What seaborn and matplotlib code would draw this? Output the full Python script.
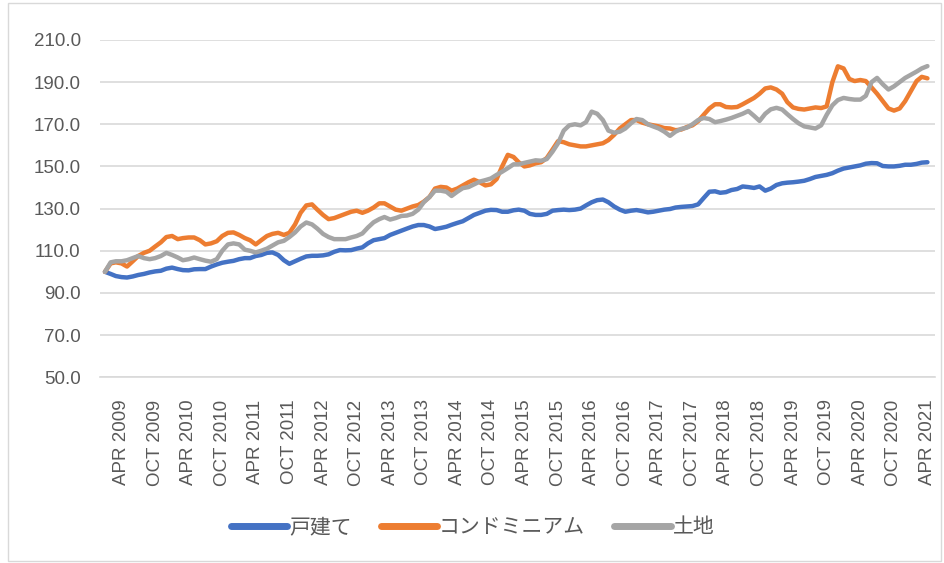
import pandas as pd
import matplotlib.pyplot as plt
import seaborn as sns
from matplotlib.patches import Rectangle

# 月次指数（2009年1月＝100）、1行＝1年
detached = [
    100, 99, 98, 97.5, 97.3, 97.8, 98.5, 99, 99.7, 100.2, 100.5, 101.5,
    102, 101.3, 100.8, 100.7, 101.2, 101.3, 101.3, 102.5, 103.5, 104.3, 104.8, 105.2,
    106, 106.5, 106.5, 107.5, 108, 109, 109.2, 108, 105.5, 103.8, 105, 106.2,
    107.3, 107.6, 107.6, 107.8, 108.3, 109.5, 110.3, 110.2, 110.3, 111, 111.6, 113.5,
    115, 115.5, 116, 117.5, 118.5, 119.5, 120.5, 121.5, 122.2, 122.2, 121.5, 120.3,
    120.8, 121.4, 122.3, 123.2, 124, 125.5, 127, 128, 129, 129.4, 129.3, 128.5,
    128.5, 129.2, 129.5, 129, 127.5, 127, 127, 127.5, 129, 129.3, 129.5, 129.3,
    129.5, 130, 131.5, 133, 134, 134.3, 133, 131, 129.5, 128.5, 129, 129.3,
    128.8, 128.2, 128.5, 129, 129.5, 129.8, 130.5, 130.8, 131, 131.2, 132, 135,
    138, 138.2, 137.5, 137.8, 138.8, 139.3, 140.5, 140.2, 139.8, 140.5, 138.5, 139.5,
    141.2, 142, 142.3, 142.5, 142.8, 143.2, 144, 145, 145.5, 146, 146.8, 148,
    149, 149.5, 150, 150.5, 151.3, 151.6, 151.5, 150.2, 150, 150, 150.3, 150.8,
    150.8, 151.2, 151.8, 152,
]
condo = [
    100, 104, 104.5, 104, 102.5, 105, 107.5, 109, 110, 112, 114, 116.5,
    117, 115.5, 116, 116.3, 116.3, 115, 113, 113.5, 114.5, 117, 118.5, 118.7,
    117.5, 116, 115, 113, 115, 117, 118, 118.5, 117.5, 118.5, 122.5, 128,
    131.5, 132, 129.5, 127, 125, 125.5, 126.5, 127.5, 128.5, 129, 128, 129,
    130.5, 132.5, 132.5, 131, 129.5, 129, 130, 131, 131.7, 133.3, 135.5, 139.5,
    140.3, 140, 138.5, 139.5, 141, 142.5, 143.7, 142.5, 141, 141.5, 144, 150,
    155.5, 154.5, 152, 150, 150.5, 151.5, 152, 154, 158, 162, 161.5, 160.5,
    160, 159.5, 159.5, 160, 160.5, 161, 162.5, 165, 168, 170, 172, 172,
    170.8, 170, 169.5, 169, 168.2, 168, 167.2, 167.5, 168.7, 169.5, 171.5, 174.5,
    177.5, 179.5, 179.5, 178.2, 178, 178.2, 179.5, 181, 182.5, 184.5, 187, 187.5,
    186.5, 184.5, 180.5, 178, 177.3, 177, 177.5, 178, 177.7, 178.5, 190, 197.5,
    196.5, 191.5, 190.5, 191, 190.5, 187.5, 184.5, 181, 177.5, 176.5, 177.5, 181,
    185.7, 190.5, 192.5, 191.8,
]
land = [
    100, 104.5, 105, 105, 105.5, 106.5, 107.5, 106.5, 106, 106.5, 107.5, 109,
    108, 106.8, 105.5, 106, 106.8, 106, 105.3, 104.8, 106, 110, 113, 113.5,
    113, 110.5, 110, 109.2, 110, 111, 112.5, 114, 114.7, 116.5, 118.7, 121.5,
    123.4, 122.5, 120.5, 118, 116.5, 115.5, 115.5, 115.5, 116.3, 117, 118.2, 121,
    123.5, 125, 126, 124.8, 125.5, 126.5, 126.7, 127.5, 129.5, 133, 135.5, 138.5,
    138.5, 138, 136, 138, 139.7, 140.2, 141.5, 142.8, 143.5, 144.3, 146, 147.5,
    149.2, 151, 151, 151.7, 152.3, 152.9, 152.7, 153.5, 157, 161, 167, 169.5,
    170, 169.5, 171, 176, 175, 172, 167, 166, 166.5, 168, 170.5, 172.5,
    172, 170, 169, 168, 166.5, 164.5, 166.5, 167.8, 168.4, 170, 172, 173,
    172.5, 171, 171.5, 172.2, 173, 174, 175, 176.3, 174, 171.6, 175, 177.1,
    177.8, 177, 174.8, 172.5, 170.5, 169, 168.5, 168, 169.5, 174.5, 179, 181.5,
    182.5, 182, 181.7, 181.7, 183.5, 190, 192, 189, 186.5, 188, 190, 192,
    193.5, 195, 196.5, 197.6,
]
series_names = ["戸建て", "コンドミニアム", "土地"]
colors = ["#4472C4", "#ED7D31", "#A5A5A5"]

months = pd.date_range("2009-01-01", periods=len(detached), freq="MS")
df = pd.DataFrame({"month": months, series_names[0]: detached,
                   series_names[1]: condo, series_names[2]: land})
long_df = df.melt(id_vars="month", var_name="種類", value_name="指数")

sns.set_style("white")
plt.rcParams['font.family'] = ['Liberation Sans', 'Noto Sans CJK JP', 'DejaVu Sans']

fig = plt.figure(figsize=(9.45, 5.63), dpi=100)
ax = fig.add_axes([0.106, 0.330, 0.883, 0.599])

sns.lineplot(data=long_df, x="month", y="指数", hue="種類", hue_order=series_names,
             palette=colors, linewidth=3.2, ax=ax)

# 軸
ax.set_ylim(50, 210)
ax.set_yticks(range(50, 211, 20))
ax.set_yticklabels([f"{v:.1f}" for v in range(50, 211, 20)])
ax.set_xlim(pd.Timestamp("2008-12-06"), pd.Timestamp("2021-05-10"))
tick_months = months[3::6]
ax.set_xticks(tick_months)
ax.set_xticklabels([f"{d.strftime('%b').upper()} {d.year}" for d in tick_months],
                   rotation=90)
ax.tick_params(axis="y", length=0, pad=14, labelsize=13.5, labelcolor="#595959")
ax.tick_params(axis="x", length=0, pad=16, labelsize=13.5, labelcolor="#595959")
ax.grid(axis="y", color="#D9D9D9", linewidth=1.2)
ax.set_axisbelow(True)
for s in ["top", "right", "left"]:
    ax.spines[s].set_visible(False)
ax.spines["bottom"].set_color("#D9D9D9")
ax.spines["bottom"].set_linewidth(1.2)
ax.set_xlabel("")
ax.set_ylabel("")

# 凡例
handles, labels = ax.get_legend_handles_labels()
ax.get_legend().remove()
for h in handles:
    h.set_linewidth(5)
fig.legend(handles, labels, loc="center", bbox_to_anchor=(0.5, 0.064), ncol=3,
           frameon=False, handlelength=2.7, handletextpad=0.1, columnspacing=1.4,
           prop={"family": ["Noto Sans CJK JP"], "size": 15}, labelcolor="#595959")

# グラフエリアの枠
fig.patches.append(Rectangle((0.008, 0.004), 0.988, 0.99, transform=fig.transFigure,
                             fill=False, edgecolor="#D9D9D9", linewidth=1))

fig.savefig("out.png", dpi=100)
